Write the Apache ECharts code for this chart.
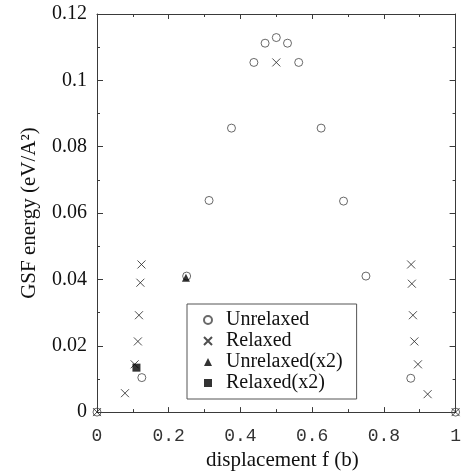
<!DOCTYPE html>
<html>
<head>
<meta charset="utf-8">
<script src="https://cdn.jsdelivr.net/npm/echarts@6/dist/echarts.min.js"></script>
<style>
  html, body { margin: 0; padding: 0; background: #fff; }
  #chart { width: 464px; height: 476px; }
</style>
</head>
<body>
<div id="chart"></div>
<script>
// values
const unrelaxedX = [0, 0.125, 0.25, 0.3125, 0.375, 0.4375, 0.46875, 0.5, 0.53125, 0.5625, 0.625, 0.6875, 0.75, 0.875, 1]
const unrelaxedY = [0, 0.0104, 0.041, 0.0638, 0.0856, 0.1054, 0.1112, 0.1129, 0.1112, 0.1054, 0.0856, 0.0636, 0.041, 0.0102, 0]

const relaxedX = [0, 0.078, 0.105, 0.114, 0.117, 0.121, 0.124, 0.5, 0.876, 0.878, 0.881, 0.885, 0.895, 0.922, 1]
const relaxedY = [0, 0.0057, 0.0144, 0.0213, 0.0292, 0.039, 0.0445, 0.1054, 0.0445, 0.0387, 0.0292, 0.0213, 0.0144, 0.0054, 0]

const unrelaxed2X = [0.248]
const unrelaxed2Y = [0.0405]

const relaxed2X = [0.11]
const relaxed2Y = [0.0134]

const seriesNames = ['Unrelaxed', 'Relaxed', 'Unrelaxed(x2)', 'Relaxed(x2)']

const zip = (xs, ys) => xs.map((x, i) => [x, ys[i]])

const CROSS = 'path://M0,0L10,10M0,10L10,0'
const serif = '"Liberation Serif", "DejaVu Serif", serif'
const axisColor = '#3a3a3a'

const chart = echarts.init(document.getElementById('chart'))

const baseX = {
  type: 'value',
  min: 0,
  max: 1,
  interval: 0.2,
  splitLine: { show: false },
  axisLine: { onZero: false, lineStyle: { color: axisColor, width: 1 } },
  axisTick: { show: true, inside: true, length: 5, lineStyle: { color: axisColor } },
  minorTick: { show: true, splitNumber: 2, length: 3, lineStyle: { color: axisColor } }
}

const baseY = {
  type: 'value',
  min: 0,
  max: 0.12,
  interval: 0.02,
  splitLine: { show: false },
  axisLine: { onZero: false, lineStyle: { color: axisColor, width: 1 } },
  axisTick: { show: true, inside: true, length: 6, lineStyle: { color: axisColor } },
  minorTick: { show: true, splitNumber: 2, length: 3, lineStyle: { color: axisColor } }
}

const option = {
  backgroundColor: '#fff',
  animation: false,
  grid: { left: 97, right: 6, top: 14, bottom: 62 },
  legend: {
    orient: 'vertical',
    left: 187,
    top: 304,
    data: seriesNames,
    itemWidth: 8,
    itemHeight: 8,
    itemGap: 1,
    padding: [6, 14, 6, 16],
    borderColor: '#555',
    borderWidth: 1,
    textStyle: { fontFamily: serif, fontSize: 20, lineHeight: 17, color: '#111', padding: [0, 0, 0, 9] }
  },
  xAxis: [
    {
      ...baseX,
      position: 'bottom',
      name: 'displacement f (b)',
      nameLocation: 'middle',
      nameGap: 36,
      nameTextStyle: { fontFamily: serif, fontSize: 21, color: '#111', padding: [0, 0, 0, 12] },
      axisLabel: {
        margin: 15,
        fontFamily: '"Liberation Mono", "DejaVu Sans Mono", monospace',
        fontSize: 18,
        color: '#333'
      }
    },
    { ...baseX, position: 'top', axisLabel: { show: false } }
  ],
  yAxis: [
    {
      ...baseY,
      position: 'left',
      name: 'GSF energy (eV/A²)',
      nameLocation: 'middle',
      nameGap: 57,
      nameTextStyle: { fontFamily: serif, fontSize: 21, color: '#111' },
      axisLabel: { margin: 10, fontFamily: serif, fontSize: 20, color: '#111' }
    },
    { ...baseY, position: 'right', axisLabel: { show: false } }
  ],
  series: [
    {
      name: seriesNames[0],
      type: 'scatter',
      symbol: 'circle',
      symbolSize: 8,
      itemStyle: { color: 'rgba(0,0,0,0)', borderColor: '#444', borderWidth: 1 },
      data: zip(unrelaxedX, unrelaxedY)
    },
    {
      name: seriesNames[1],
      type: 'scatter',
      symbol: CROSS,
      symbolSize: 8,
      itemStyle: { color: 'rgba(0,0,0,0)', borderColor: '#222', borderWidth: 1 },
      data: zip(relaxedX, relaxedY)
    },
    {
      name: seriesNames[2],
      type: 'scatter',
      symbol: 'triangle',
      symbolSize: 8,
      itemStyle: { color: '#000' },
      data: zip(unrelaxed2X, unrelaxed2Y)
    },
    {
      name: seriesNames[3],
      type: 'scatter',
      symbol: 'rect',
      symbolSize: 8,
      itemStyle: { color: '#000' },
      data: zip(relaxed2X, relaxed2Y)
    }
  ]
}

chart.setOption(option)
</script>
</body>
</html>
